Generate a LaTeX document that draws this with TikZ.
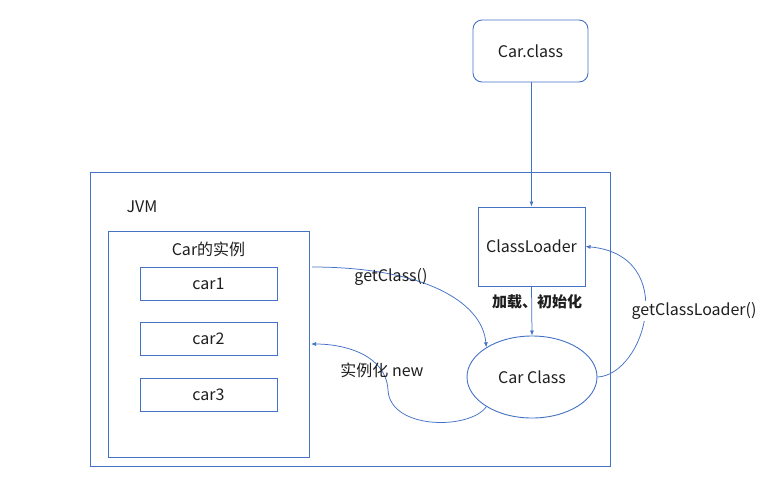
\documentclass[tikz,border=0pt]{standalone}
\usepackage{fontspec}
\setmainfont{Noto Sans CJK SC}
\usetikzlibrary{arrows.meta,shapes.geometric}
\definecolor{lb}{HTML}{4472C4}
\begin{document}
\begin{tikzpicture}[x=1pt,y=-1pt,
  every node/.style={font=\fontsize{16}{19}\selectfont, text=black!88, inner sep=0pt},
  box/.style={draw=lb, line width=0.9pt, fill=white},
  conn/.style={draw=lb, line width=0.75pt, -{Latex[length=5pt,width=4pt]}}]
\useasboundingbox (0,0) rectangle (770,482);
\node[box, rounded corners=9pt, minimum width=115pt, minimum height=62pt] (cc0) at (530.5,51) {Car.class};
\node[box, minimum width=520pt, minimum height=294pt] (jvm) at (350,319) {};
\node (jvml) at (142,207) {JVM};
\node[box, minimum width=201pt, minimum height=226pt] (inst) at (208.5,344) {};
\node (instl) at (208.5,249) {Car的实例};
\node[box, minimum width=137pt, minimum height=33pt] (c1) at (208.5,283.5) {car1};
\node[box, minimum width=137pt, minimum height=33pt] (c2) at (208.5,338.5) {car2};
\node[box, minimum width=137pt, minimum height=33pt] (c3) at (208.5,394.5) {car3};
\node[box, minimum width=107pt, minimum height=79pt] (cl) at (531.5,246.5) {ClassLoader};
\node[box, ellipse, minimum width=130pt, minimum height=82pt] (ccl) at (532,377) {Car Class};
\draw[conn] (cc0.south -| cl.north) -- (cl.north);
\draw[conn] (cl.south) -- (ccl.north);
\node[font=\fontsize{15}{18}\selectfont\bfseries] (load) at (537,302) {加载、初始化};
\coordinate (gs) at (312,267);
\draw[conn] (gs) .. controls (420,267) and (482,300) .. (ccl.147);
\node (gcl) at (391,277) {getClass()};
\coordinate (ne) at (311,344);
\draw[conn] (ccl.213) .. controls (470,430) and (390,430) .. (388,390) .. controls (386,355) and (345,344) .. (ne);
\node (newl) at (382,370) {实例化 new};
\draw[conn] (ccl.east) .. controls (645,375) and (680,255) .. (cl.east);
\node[fill=white, inner sep=1pt] (gcll) at (694,311) {getClassLoader()};
\end{tikzpicture}
\end{document}
